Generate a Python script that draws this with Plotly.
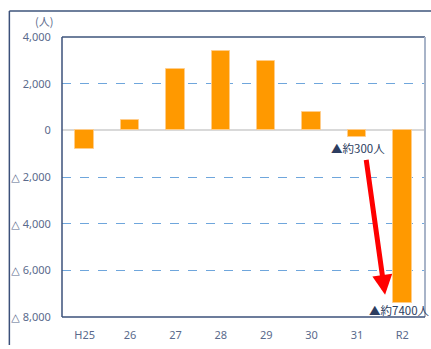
import plotly.graph_objects as go

# Year-on-year population change (persons)
years = ["H25", "26", "27", "28", "29", "30", "31", "R2"]
change = [-820, 440, 2610, 3400, 2970, 790, -300, -7400]

tick_vals = [4000, 2000, 0, -2000, -4000, -6000, -8000]
tick_text = ["4,000", "2,000", "0", "△ 2,000", "△ 4,000", "△ 6,000", "△ 8,000"]

label_color = "#5a6a8c"
font_family = "Noto Sans CJK JP, Noto Sans, sans-serif"
tick_family = "Noto Sans, DejaVu Sans, sans-serif"

fig = go.Figure(
    go.Bar(
        x=years,
        y=change,
        width=0.41,
        marker=dict(color="#ff9900", line=dict(color="rgba(255,205,140,0.9)", width=1)),
    )
)

fig.update_layout(
    width=431,
    height=349,
    margin=dict(l=62, r=6, t=37, b=32),
    paper_bgcolor="white",
    plot_bgcolor="white",
    showlegend=False,
    font=dict(family=font_family, size=11, color=label_color),
    bargap=0,
)

fig.update_xaxes(
    type="category",
    showgrid=False,
    showline=False,
    ticks="outside",
    ticklen=8,
    tickcolor="rgba(0,0,0,0)",
    tickfont=dict(family=tick_family, size=11, color=label_color),
    range=[-0.5, 7.5],
)

fig.update_yaxes(
    range=[-8000, 4000],
    tickvals=tick_vals,
    ticktext=tick_text,
    showgrid=True,
    gridcolor="#6fa6dc",
    griddash="dash",
    gridwidth=1.2,
    zeroline=True,
    zerolinecolor="#d9d9d9",
    zerolinewidth=2,
    showline=False,
    ticks="outside",
    ticklen=8,
    tickcolor="rgba(0,0,0,0)",
    tickfont=dict(family=tick_family, size=11, color=label_color),
)

# plot-area frame: darker left/bottom, lighter top/right
fig.add_shape(type="line", xref="paper", yref="paper", x0=0, x1=1, y0=1, y1=1,
              line=dict(color="#6e7f9c", width=2))
fig.add_shape(type="line", xref="paper", yref="paper", x0=1, x1=1, y0=0, y1=1,
              line=dict(color="#a8b4c8", width=2))
fig.add_shape(type="line", xref="paper", yref="paper", x0=0, x1=0, y0=0, y1=1,
              line=dict(color="#3b507a", width=1.5))
fig.add_shape(type="line", xref="paper", yref="paper", x0=0, x1=1, y0=0, y1=0,
              line=dict(color="#3b507a", width=1.5))

# outer chart frame (left and top edges)
fig.add_shape(type="line", xref="paper", yref="paper",
              x0=-0.145, x1=1.02, y0=1.093, y1=1.093,
              line=dict(color="#6e7f9c", width=2))
fig.add_shape(type="line", xref="paper", yref="paper",
              x0=-0.145, x1=-0.145, y0=-0.10, y1=1.093,
              line=dict(color="#3b507a", width=1.5))

# unit label
fig.add_annotation(text="(人)", xref="paper", yref="paper", x=-0.05, y=1.057,
                   showarrow=False, xanchor="center", yanchor="middle",
                   font=dict(size=11, color=label_color))

# callouts
fig.add_annotation(text="▲約300人", x=6.02, y=-750, xref="x", yref="y",
                   showarrow=False, xanchor="center", yanchor="middle",
                   font=dict(size=11.5, color="#2c3d60"))
fig.add_annotation(text="▲約7400人", x=6.94, y=-7700, xref="x", yref="y",
                   showarrow=False, xanchor="center", yanchor="middle",
                   font=dict(size=11.5, color="#2c3d60"))

# red arrow from the 31 figure down to the R2 figure
fig.add_annotation(x=6.62, y=-7050, ax=6.2, ay=-1200, xref="x", yref="y",
                   axref="x", ayref="y", text="", showarrow=True,
                   arrowhead=2, arrowsize=0.8, arrowwidth=5, arrowcolor="#ff0000")

fig.write_html("out.html")
